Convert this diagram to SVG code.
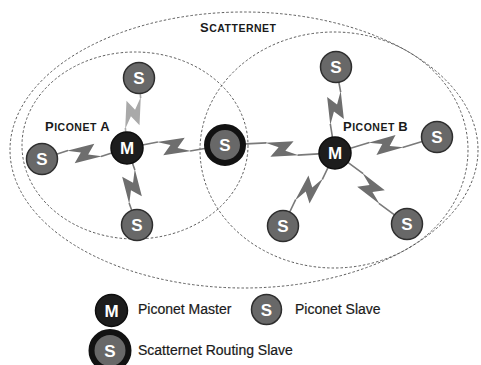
<svg xmlns="http://www.w3.org/2000/svg" xmlns:xlink="http://www.w3.org/1999/xlink" width="481" height="365" viewBox="0 0 481 365">
  <style>
    .zone { fill: none; stroke: #4a4a4a; stroke-width: 0.9; stroke-dasharray: 2.5 2; }
    .link { fill: none; stroke: #7a7a7a; stroke-width: 1.6; }
    .bolt { fill: #6e6e6e; }
    .light .link { stroke: #a9a9a9; }
    .light .bolt { fill: #a9a9a9; }
    .slave { fill: #686868; stroke: #2e2e2e; stroke-width: 1.5; }
    .master { fill: #1d1d1d; stroke: #0e0e0e; stroke-width: 1.5; }
    .router { fill: #686868; stroke: #121212; stroke-width: 6; }
    .glyph { font-family: "Liberation Sans", Arial, sans-serif; font-weight: bold; font-size: 17px; fill: #ffffff; text-anchor: middle; }
    .title { font-family: "Liberation Sans", Arial, sans-serif; font-weight: bold; fill: #1a1a1a; letter-spacing: 0.5px; }
    .legend { font-family: "Liberation Sans", Arial, sans-serif; font-size: 14px; fill: #1a1a1a; stroke: #1a1a1a; stroke-width: 0.2; }
  </style>
  <defs>
    <!-- zig-zag radio link symbol, centred on the link midpoint -->
    <polygon id="bolt" points="-17,-5 11,-8.5 3.5,1.5 17,5 -11,8.5 -3.5,-1.5"/>
  </defs>

  <rect width="481" height="365" fill="#ffffff"/>

  <!-- network boundaries -->
  <g id="zones">
    <ellipse class="zone" cx="244" cy="150" rx="234" ry="138"/>
    <ellipse class="zone" cx="135" cy="145.5" rx="113" ry="93.5"/>
    <ellipse class="zone" cx="334" cy="150" rx="134" ry="118"/>
  </g>

  <text class="title" x="200" y="32"><tspan font-size="13">S</tspan><tspan font-size="10.5">CATTERNET</tspan></text>
  <text class="title" x="45" y="131"><tspan font-size="13">P</tspan><tspan font-size="10.5">ICONET </tspan><tspan font-size="13">A</tspan></text>
  <text class="title" x="343" y="131"><tspan font-size="13">P</tspan><tspan font-size="10.5">ICONET </tspan><tspan font-size="13">B</tspan></text>

  <!-- radio links -->
  <g id="links">
    <g class="light" transform="translate(133,113) rotate(-80.27)">
      <path class="link" d="M-35.5,0 L-16,-5 M16,5 L35.5,0"/>
      <use xlink:href="#bolt" class="bolt"/>
    </g>
    <g transform="translate(84.5,153.5) rotate(172.63)">
      <path class="link" d="M-42.9,0 L-16,-5 M16,5 L42.9,0"/>
      <use xlink:href="#bolt" class="bolt"/>
    </g>
    <g transform="translate(132,186.5) rotate(82.6)">
      <path class="link" d="M-38.8,0 L-16,-5 M16,5 L38.8,0"/>
      <use xlink:href="#bolt" class="bolt"/>
    </g>
    <g transform="translate(174,146.5) rotate(-1.75)">
      <path class="link" d="M-47,0 L-16,-5 M16,5 L51,0"/>
      <use xlink:href="#bolt" class="bolt"/>
    </g>
    <g transform="translate(282,149) rotate(4.16)">
      <path class="link" d="M-57,0 L-16,-5 M16,5 L53,0"/>
      <use xlink:href="#bolt" class="bolt"/>
    </g>
    <g transform="translate(335.5,108) rotate(-89.3)">
      <path class="link" d="M-45,0 L-16,-5 M16,5 L41,0"/>
      <use xlink:href="#bolt" class="bolt"/>
    </g>
    <g transform="translate(386,145) rotate(-8.9)">
      <path class="link" d="M-51.6,0 L-16,-5 M16,5 L51.6,0"/>
      <use xlink:href="#bolt" class="bolt"/>
    </g>
    <g transform="translate(309,189.5) rotate(125.46)">
      <path class="link" d="M-44.8,0 L-16,-5 M16,5 L44.8,0"/>
      <use xlink:href="#bolt" class="bolt"/>
    </g>
    <g transform="translate(371,188.5) rotate(44.6)">
      <path class="link" d="M-50.6,0 L-16,-5 M16,5 L50.6,0"/>
      <use xlink:href="#bolt" class="bolt"/>
    </g>
  </g>

  <!-- piconet A -->
  <g id="masterA"><circle class="master" cx="127" cy="148" r="16"/><text class="glyph" x="127" y="154">M</text></g>
  <g id="slaveA1"><circle class="slave" cx="139" cy="78" r="15.5"/><text class="glyph" x="139" y="84">S</text></g>
  <g id="slaveA2"><circle class="slave" cx="42" cy="159" r="15.5"/><text class="glyph" x="42" y="165">S</text></g>
  <g id="slaveA3"><circle class="slave" cx="137" cy="225" r="15.5"/><text class="glyph" x="137" y="231">S</text></g>

  <!-- bridge node shared by both piconets -->
  <g id="router"><circle class="router" cx="225" cy="145" r="18"/><text class="glyph" x="225" y="151">S</text></g>

  <!-- piconet B -->
  <g id="masterB"><circle class="master" cx="335" cy="153" r="16"/><text class="glyph" x="335" y="159">M</text></g>
  <g id="slaveB1"><circle class="slave" cx="336" cy="67" r="15.5"/><text class="glyph" x="336" y="73">S</text></g>
  <g id="slaveB2"><circle class="slave" cx="437" cy="137" r="15.5"/><text class="glyph" x="437" y="143">S</text></g>
  <g id="slaveB3"><circle class="slave" cx="283" cy="226" r="15.5"/><text class="glyph" x="283" y="232">S</text></g>
  <g id="slaveB4"><circle class="slave" cx="407" cy="224" r="15.5"/><text class="glyph" x="407" y="230">S</text></g>

  <!-- legend -->
  <g id="legend">
    <g id="legendMaster"><circle class="master" cx="111.5" cy="310.5" r="16"/><text class="glyph" x="111.5" y="316.5">M</text></g>
    <text class="legend" x="138" y="314">Piconet Master</text>
    <g id="legendSlave"><circle class="slave" cx="266.5" cy="309.5" r="15"/><text class="glyph" x="266.5" y="315.5">S</text></g>
    <text class="legend" x="295" y="314">Piconet Slave</text>
    <g id="legendRouter"><circle class="router" cx="110" cy="350.5" r="18.5"/><text class="glyph" x="110" y="356.5">S</text></g>
    <text class="legend" x="138" y="354.5">Scatternet Routing Slave</text>
  </g>
</svg>
